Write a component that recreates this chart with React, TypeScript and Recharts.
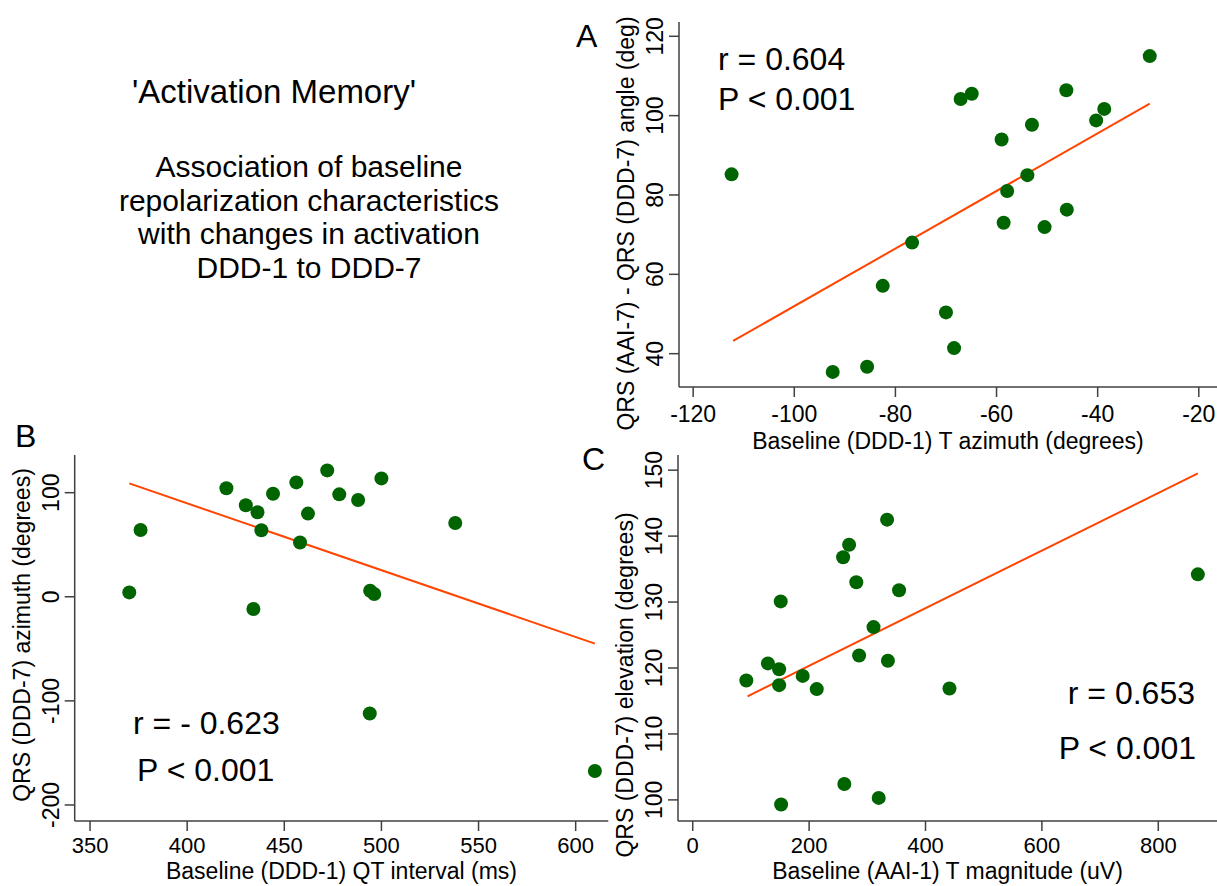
import React from 'react';
import { ScatterChart, Scatter, XAxis, YAxis, ReferenceLine } from 'recharts';

const FONT = '"Liberation Sans", Arial, Helvetica, sans-serif';
const AXIS = '#404040';
const DOT = '#006400';
const FIT = '#ff4500';

// Panel A: baseline T azimuth vs QRS angle change
const aTAzimuth = [-112.4, -92.4, -85.6, -82.5, -76.7, -70.0, -68.4, -67.1, -64.9, -59.0, -58.6, -57.9, -53.9, -53.0, -50.5, -46.2, -46.1, -40.3, -38.7, -29.7];
const aQrsAngle = [85.2, 35.4, 36.7, 57.1, 68.0, 50.4, 41.4, 104.2, 105.5, 94.0, 73.0, 81.0, 85.0, 97.7, 71.9, 106.4, 76.3, 98.8, 101.7, 115.0];
const aFitX = [-112.1, -29.7];
const aFitY = [43.2, 103.0];
const aXTicks = [-120, -100, -80, -60, -40, -20];
const aYTicks = [40, 60, 80, 100, 120];

// Panel B: baseline QT interval vs QRS azimuth
const bQtInterval = [370.2, 376.0, 420.2, 430.2, 436.2, 438.2, 434.1, 444.2, 456.2, 458.1, 462.2, 472.1, 478.3, 488.0, 500.0, 494.2, 496.3, 494.0, 538.0, 609.9];
const bQrsAzimuth = [4.2, 64.2, 104.2, 87.9, 81.2, 63.9, -11.8, 99.0, 109.9, 52.1, 79.9, 121.4, 98.4, 93.0, 113.7, 5.8, 2.6, -112.1, 70.9, -167.4];
const bFitX = [370.2, 609.9];
const bFitY = [108.9, -45.0];
const bXTicks = [350, 400, 450, 500, 550, 600];
const bYTicks = [-200, -100, 0, 100];

// Panel C: baseline T magnitude vs QRS elevation
const cTMagnitude = [92.1, 129.2, 148.5, 148.5, 151.2, 151.9, 189.0, 213.1, 258.4, 260.5, 268.7, 281.1, 285.9, 310.7, 319.6, 334.0, 335.4, 354.6, 441.2, 868.0];
const cQrsElevation = [118.1, 120.7, 119.8, 117.4, 130.1, 99.3, 118.8, 116.8, 136.8, 102.4, 138.7, 133.0, 121.9, 126.2, 100.3, 142.5, 121.1, 131.8, 116.9, 134.2];
const cFitX = [94.2, 868.0];
const cFitY = [115.7, 149.5];
const cXTicks = [0, 200, 400, 600, 800];
const cYTicks = [100, 110, 120, 130, 140, 150];

const titleLines = ['Association of baseline', 'repolarization characteristics', 'with changes in activation', 'DDD-1 to DDD-7'];

const toPoints = (xs: number[], ys: number[]) => xs.map((x, i) => ({ x, y: ys[i] }));

const Dot = (props: any) => <circle cx={props.cx} cy={props.cy} r={7} fill={DOT} />;

const RotTick = (props: any) => {
    const { x, y, payload } = props;
    return (
        <text x={x} y={y} transform={`rotate(-90 ${x} ${y})`} textAnchor="middle" fontSize={23} fill="#000" fontFamily={FONT}>
            {payload.value}
        </text>
    );
};

interface PanelProps {
    left: number;
    top: number;
    width: number;
    height: number;
    marginTop: number;
    marginRight: number;
    yAxisWidth: number;
    xAxisHeight: number;
    xDomain: [number, number];
    yDomain: [number, number];
    xTicks: number[];
    yTicks: number[];
    xs: number[];
    ys: number[];
    fitX: number[];
    fitY: number[];
    xTitle: string;
    yTitle: string;
    xTickFont: number;
    xTickMargin: number;
    xTitleDy: number;
    yTitleShift: number;
}

const Panel = (p: PanelProps) => {
    const data = toPoints(p.xs, p.ys);
    return (
        <div style={{ position: 'absolute', left: p.left, top: p.top }}>
            <ScatterChart width={p.width} height={p.height} margin={{ top: p.marginTop, right: p.marginRight, bottom: 0, left: 0 }}>
                <XAxis
                    type="number"
                    dataKey="x"
                    domain={p.xDomain}
                    ticks={p.xTicks}
                    interval={0}
                    allowDataOverflow
                    height={p.xAxisHeight}
                    tickSize={10}
                    tickMargin={p.xTickMargin}
                    axisLine={{ stroke: AXIS, strokeWidth: 1.5 }}
                    tickLine={{ stroke: AXIS, strokeWidth: 1.5 }}
                    tick={{ fill: '#000', fontSize: p.xTickFont, fontFamily: FONT }}
                    label={(lp: any) => {
                        const vb = lp.viewBox;
                        return (
                            <text x={vb.x + vb.width / 2} y={vb.y + p.xTitleDy} textAnchor="middle" fontSize={23} fill="#000" fontFamily={FONT}>
                                {p.xTitle}
                            </text>
                        );
                    }}
                />
                <YAxis
                    type="number"
                    dataKey="y"
                    domain={p.yDomain}
                    ticks={p.yTicks}
                    interval={0}
                    allowDataOverflow
                    width={p.yAxisWidth}
                    tickSize={10}
                    tickMargin={6}
                    axisLine={{ stroke: AXIS, strokeWidth: 1.5 }}
                    tickLine={{ stroke: AXIS, strokeWidth: 1.5 }}
                    tick={(tp: any) => <RotTick {...tp} />}
                    label={(lp: any) => {
                        const vb = lp.viewBox;
                        const tx = vb.x + vb.width - 45;
                        const ty = vb.y + vb.height / 2 + p.yTitleShift;
                        return (
                            <text x={tx} y={ty} transform={`rotate(-90 ${tx} ${ty})`} textAnchor="middle" fontSize={23} fill="#000" fontFamily={FONT}>
                                {p.yTitle}
                            </text>
                        );
                    }}
                />
                <Scatter data={data} isAnimationActive={false} shape={Dot} />
                <ReferenceLine
                    segment={[{ x: p.fitX[0], y: p.fitY[0] }, { x: p.fitX[1], y: p.fitY[1] }]}
                    stroke={FIT}
                    strokeWidth={2}
                />
            </ScatterChart>
        </div>
    );
};

export default function App() {
    return (
        <div style={{ position: 'absolute', left: 0, top: 0, width: 1217, height: 886, background: '#fff', overflow: 'hidden' }}>
            <Panel
                left={600} top={0} width={617} height={460}
                marginTop={22} marginRight={0} yAxisWidth={79} xAxisHeight={73}
                xDomain={[-122.8, -16.4]} yDomain={[31.6, 123.6]}
                xTicks={aXTicks} yTicks={aYTicks}
                xs={aTAzimuth} ys={aQrsAngle} fitX={aFitX} fitY={aFitY}
                xTitle="Baseline (DDD-1) T azimuth (degrees)"
                yTitle="QRS (AAI-7) - QRS (DDD-7) angle (deg)"
                xTickFont={23} xTickMargin={9} xTitleDy={62} yTitleShift={19}
            />
            <Panel
                left={0} top={440} width={620} height={446}
                marginTop={15} marginRight={11.7} yAxisWidth={74.7} xAxisHeight={65}
                xDomain={[342.1, 616.8]} yDomain={[-215.4, 136.2]}
                xTicks={bXTicks} yTicks={bYTicks}
                xs={bQtInterval} ys={bQrsAzimuth} fitX={bFitX} fitY={bFitY}
                xTitle="Baseline (DDD-1) QT interval (ms)"
                yTitle="QRS (DDD-7) azimuth (degrees)"
                xTickFont={22} xTickMargin={6} xTitleDy={58} yTitleShift={-3}
            />
            <Panel
                left={600} top={440} width={617} height={446}
                marginTop={15} marginRight={0} yAxisWidth={78} xAxisHeight={65}
                xDomain={[-25.3, 900.9]} yDomain={[96.8, 152.3]}
                xTicks={cXTicks} yTicks={cYTicks}
                xs={cTMagnitude} ys={cQrsElevation} fitX={cFitX} fitY={cFitY}
                xTitle="Baseline (AAI-1) T magnitude (uV)"
                yTitle="QRS (DDD-7) elevation (degrees)"
                xTickFont={22} xTickMargin={6} xTitleDy={58} yTitleShift={47}
            />
            <svg width={1217} height={886} style={{ position: 'absolute', left: 0, top: 0, pointerEvents: 'none' }} fontFamily={FONT} fill="#000">
                <text x={132} y={103} fontSize={33}>'Activation Memory'</text>
                {titleLines.map((line, i) => (
                    <text key={line} x={309} y={177 + i * 33.6} fontSize={30} textAnchor="middle">{line}</text>
                ))}
                <text x={576} y={47} fontSize={32}>A</text>
                <text x={15} y={447} fontSize={32}>B</text>
                <text x={582} y={470} fontSize={32}>C</text>
                <text x={718} y={70} fontSize={32}>r = 0.604</text>
                <text x={718} y={110} fontSize={32}>P &lt; 0.001</text>
                <text x={133} y={734} fontSize={32}>r = - 0.623</text>
                <text x={137} y={781} fontSize={32}>P &lt; 0.001</text>
                <text x={1195} y={704} fontSize={32} textAnchor="end">r = 0.653</text>
                <text x={1196} y={759} fontSize={32} textAnchor="end">P &lt; 0.001</text>
            </svg>
        </div>
    );
}
